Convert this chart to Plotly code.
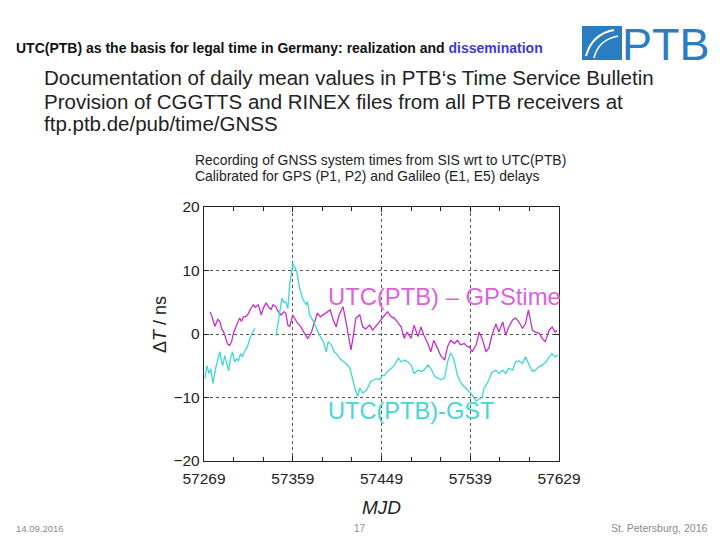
import plotly.graph_objects as go

# ---------------- data ----------------
gps_mjd = [57275, 57277, 57280, 57283, 57285, 57287, 57289, 57291, 57293, 57295,
           57297, 57299, 57300, 57302, 57305, 57307, 57309, 57312, 57314, 57316,
           57319, 57321, 57324, 57326, 57327, 57329, 57332, 57334, 57337, 57339,
           57342, 57344, 57347, 57350, 57352, 57354, 57356, 57359, 57363, 57366,
           57368, 57371, 57374, 57376, 57378, 57381, 57384, 57387, 57390, 57393,
           57397, 57400, 57403, 57406, 57410, 57413, 57416, 57418, 57420, 57423,
           57427, 57430, 57433, 57437, 57440, 57444, 57447, 57450, 57452, 57455,
           57459, 57462, 57465, 57469, 57472, 57475, 57479, 57482, 57486, 57489,
           57492, 57496, 57499, 57502, 57506, 57509, 57513, 57516, 57519, 57523,
           57526, 57529, 57533, 57536, 57538, 57541, 57545, 57548, 57551, 57555,
           57558, 57561, 57565, 57568, 57572, 57575, 57578, 57582, 57585, 57588,
           57592, 57595, 57598, 57602, 57605, 57609, 57612, 57615, 57619, 57622,
           57625, 57627]
gps_ns = [3.5, 2.8, 1.2, 2.3, 2.0, 0.8, 0.3, -0.5, -1.6, -1.8,
          -1.2, 0.2, 0.6, 1.3, 2.5, 2.0, 2.7, 2.8, 3.2, 3.9,
          4.6, 4.2, 4.6, 3.6, 3.0, 4.0, 4.9, 4.4, 3.8, 4.6,
          4.3, 3.6, 3.0, 3.5, 3.3, 1.4, 1.2, 3.0, 1.9, 1.4,
          0.8, 0.1, -0.7, -0.3, 0.3, 1.9, 3.3, 2.7, 3.0, 3.3,
          3.8, 2.2, 1.1, 3.0, 4.3, 1.9, -1.0, -2.5, -0.7, 2.5,
          3.0, 1.1, 0.8, 1.4, 0.6, 1.4, 1.9, 2.6, 3.0, 3.5,
          2.7, 2.5, 1.9, 1.1, -0.7, 0.3, -0.7, 1.4, -0.4, 1.1,
          -0.2, -1.5, -2.8, -1.0, -2.3, -3.4, -4.1, -2.0, -1.0, -1.5,
          -1.0, -1.7, -1.5, -2.0, -2.0, -2.8, -1.7, 0.3, -0.7, -2.8,
          -2.2, -0.2, 1.6, 0.3, 1.9, -0.2, 1.1, 2.2, 2.5, 2.0,
          0.9, 1.6, 3.8, 0.6, 0.3, 0.1, -0.7, -1.2, 0.6, 1.1,
          0.3, 0.6]

gst_mjd = [57270, 57272, 57274, 57276, 57278, 57280, 57281, 57283, 57285, 57287,
           57288, 57290, 57292, 57294, 57296, 57298, 57300, 57302, 57304, 57306,
           57308, 57310, 57313, 57316, 57319, 57321, 57330, 57342, 57344, 57346,
           57348, 57350, 57352, 57354, 57356, 57358, 57359, 57361, 57363, 57366,
           57369, 57371, 57373, 57374, 57376, 57380, 57383, 57386, 57390, 57393,
           57395, 57398, 57401, 57404, 57407, 57411, 57414, 57417, 57420, 57423,
           57425, 57427, 57430, 57434, 57438, 57442, 57444, 57447, 57450, 57452,
           57455, 57459, 57462, 57466, 57469, 57472, 57476, 57479, 57482, 57486,
           57489, 57492, 57496, 57499, 57503, 57506, 57509, 57513, 57516, 57519,
           57521, 57523, 57526, 57530, 57533, 57536, 57541, 57545, 57548, 57551,
           57553, 57556, 57558, 57561, 57565, 57568, 57572, 57575, 57578, 57582,
           57585, 57588, 57592, 57595, 57599, 57602, 57605, 57609, 57612, 57616,
           57619, 57622, 57625, 57628]
gst_ns = [-7.0, -5.0, -6.2, -5.5, -7.8, -6.0, -5.3, -4.0, -2.8, -4.5,
          -5.0, -3.4, -4.8, -5.8, -3.8, -2.8, -4.4, -3.9, -4.2, -3.1,
          -3.6, -2.8, -2.0, -0.5, 0.5, 0.9, None, -0.3, 1.8, 3.5,
          5.6, 5.0, 5.0, 4.0, 8.0, 9.9, 11.1, 10.5, 9.8, 7.2,
          5.6, 5.0, 4.6, 5.1, 3.0, 2.0, 0.9, -0.2, -1.2, -2.8,
          -1.2, -1.7, -2.8, -3.2, -3.9, -4.4, -4.8, -5.4, -7.5, -9.1,
          -9.8, -8.5, -9.3, -8.8, -7.5, -7.2, -7.0, -7.2, -6.5, -6.5,
          -5.9, -5.4, -4.9, -3.8, -4.4, -4.1, -4.4, -4.9, -6.2, -5.7,
          -5.9, -5.7, -4.9, -5.4, -6.7, -6.9, -7.2, -6.9, -4.4, -3.0,
          -3.4, -4.4, -6.5, -7.8, -8.3, -8.8, -9.6, -10.6, -10.2, -10.0,
          -8.5, -7.8, -7.2, -6.0, -5.7, -6.2, -5.7, -6.2, -5.4, -5.7,
          -4.4, -4.2, -4.6, -3.6, -4.9, -5.9, -5.7, -5.1, -4.9, -4.4,
          -3.6, -3.1, -3.6, -3.3]

x_ticks = [57269, 57359, 57449, 57539, 57629]
y_ticks = [20, 10, 0, -10, -20]

# ---------------- layout helpers ----------------
W, H = 720, 540
L, R, T, B = 204, 559, 207, 461


def px(x):
    return (x - L) / (R - L)


def py(y):
    return (B - y) / (B - T)


FONT = "Liberation Sans, Arial, sans-serif"
PTB_BLUE = "#2b7dc1"

fig = go.Figure()
fig.add_trace(go.Scatter(x=gps_mjd, y=gps_ns, mode="lines",
                         line=dict(color="#c82ec8", width=1.3),
                         name="UTC(PTB) – GPStime", showlegend=False))
fig.add_trace(go.Scatter(x=gst_mjd, y=gst_ns, mode="lines",
                         line=dict(color="#3ad8d8", width=1.3),
                         name="UTC(PTB)-GST", showlegend=False,
                         connectgaps=False))

ann = []


def text(x, y, s, size, color="#222222", xanchor="left", yanchor="middle",
         font=FONT, **kw):
    ann.append(dict(x=px(x), y=py(y), xref="paper", yref="paper", text=s,
                    showarrow=False, xanchor=xanchor, yanchor=yanchor,
                    font=dict(size=size, color=color, family=font), **kw))


# header
text(14, 48, "<b>UTC(PTB) as the basis for legal time in Germany: realization and "
     "<span style='color:#3b3bd0'>dissemination</span></b>", 14, color="#111111")
# body text
text(42, 77, "Documentation of daily mean values in PTB‘s Time Service Bulletin", 20.5)
text(42, 101, "Provision of CGGTTS and RINEX files from all PTB receivers at", 20.5)
text(42, 124, "ftp.ptb.de/pub/time/GNSS", 20.5)
# chart subtitle
text(193, 160, "Recording of GNSS system times from SIS wrt to UTC(PTB)", 13.9)
text(193, 176, "Calibrated for GPS (P1, P2) and Galileo (E1, E5) delays", 13.9)
# series labels
text(326, 296, "UTC(PTB) – GPStime", 23.8, color="#dc62dc")
text(326, 411, "UTC(PTB)-GST", 23.6, color="#45d6d6")
# axis titles
text(160, 325, "Δ<i>T</i> / ns", 18, xanchor="center", textangle=-90)
text(381, 507, "<i>MJD</i>", 19, xanchor="center")
# footer
text(14, 528, "14.09.2016", 9.5, color="#8a8a8a")
text(360, 528, "17", 10, color="#8a8a8a", xanchor="center")
text(709, 528, "St. Petersburg, 2016", 10.5, color="#8a8a8a", xanchor="right")
# logo text
text(620, 44, "PTB", 45, color=PTB_BLUE)

shapes = [
    dict(type="rect", xref="paper", yref="paper", x0=px(582), x1=px(622),
         y0=py(60), y1=py(26), fillcolor=PTB_BLUE, line=dict(width=0)),
    dict(type="path", xref="paper", yref="paper",
         path=f"M {px(586)},{py(56)} Q {px(592)},{py(34)} {px(614)},{py(30)}",
         line=dict(color="white", width=2)),
    dict(type="path", xref="paper", yref="paper",
         path=f"M {px(594)},{py(58)} Q {px(598)},{py(40)} {px(618)},{py(36)}",
         line=dict(color="white", width=1.5)),
]

axis_common = dict(showline=True, linecolor="#222222", linewidth=1.4,
                   mirror="ticks", ticks="inside", ticklen=5, tickwidth=1,
                   tickcolor="#222222", showgrid=True, gridcolor="#555555",
                   griddash="dot", gridwidth=1, zeroline=False,
                   tickfont=dict(size=15.5, color="#222222", family=FONT))

fig.update_xaxes(range=[57269, 57629], tickvals=x_ticks, tickformat="d",
                 ticklabelstandoff=3,
                 minor=dict(tick0=57269, dtick=30, ticks="inside", ticklen=4,
                            tickcolor="#222222", showgrid=False),
                 **axis_common)
fig.update_yaxes(range=[-20, 20], tickvals=y_ticks, **axis_common)

fig.update_layout(width=W, height=H,
                  margin=dict(l=L, r=W - R, t=T, b=H - B, pad=0),
                  paper_bgcolor="white", plot_bgcolor="white",
                  annotations=ann, shapes=shapes, showlegend=False,
                  font=dict(family=FONT))

fig.write_html("out.html",
               config={"displayModeBar": False},
               post_script="document.body.style.margin='0';"
                           "document.body.style.padding='0';"
                           "document.body.style.overflow='hidden';")
